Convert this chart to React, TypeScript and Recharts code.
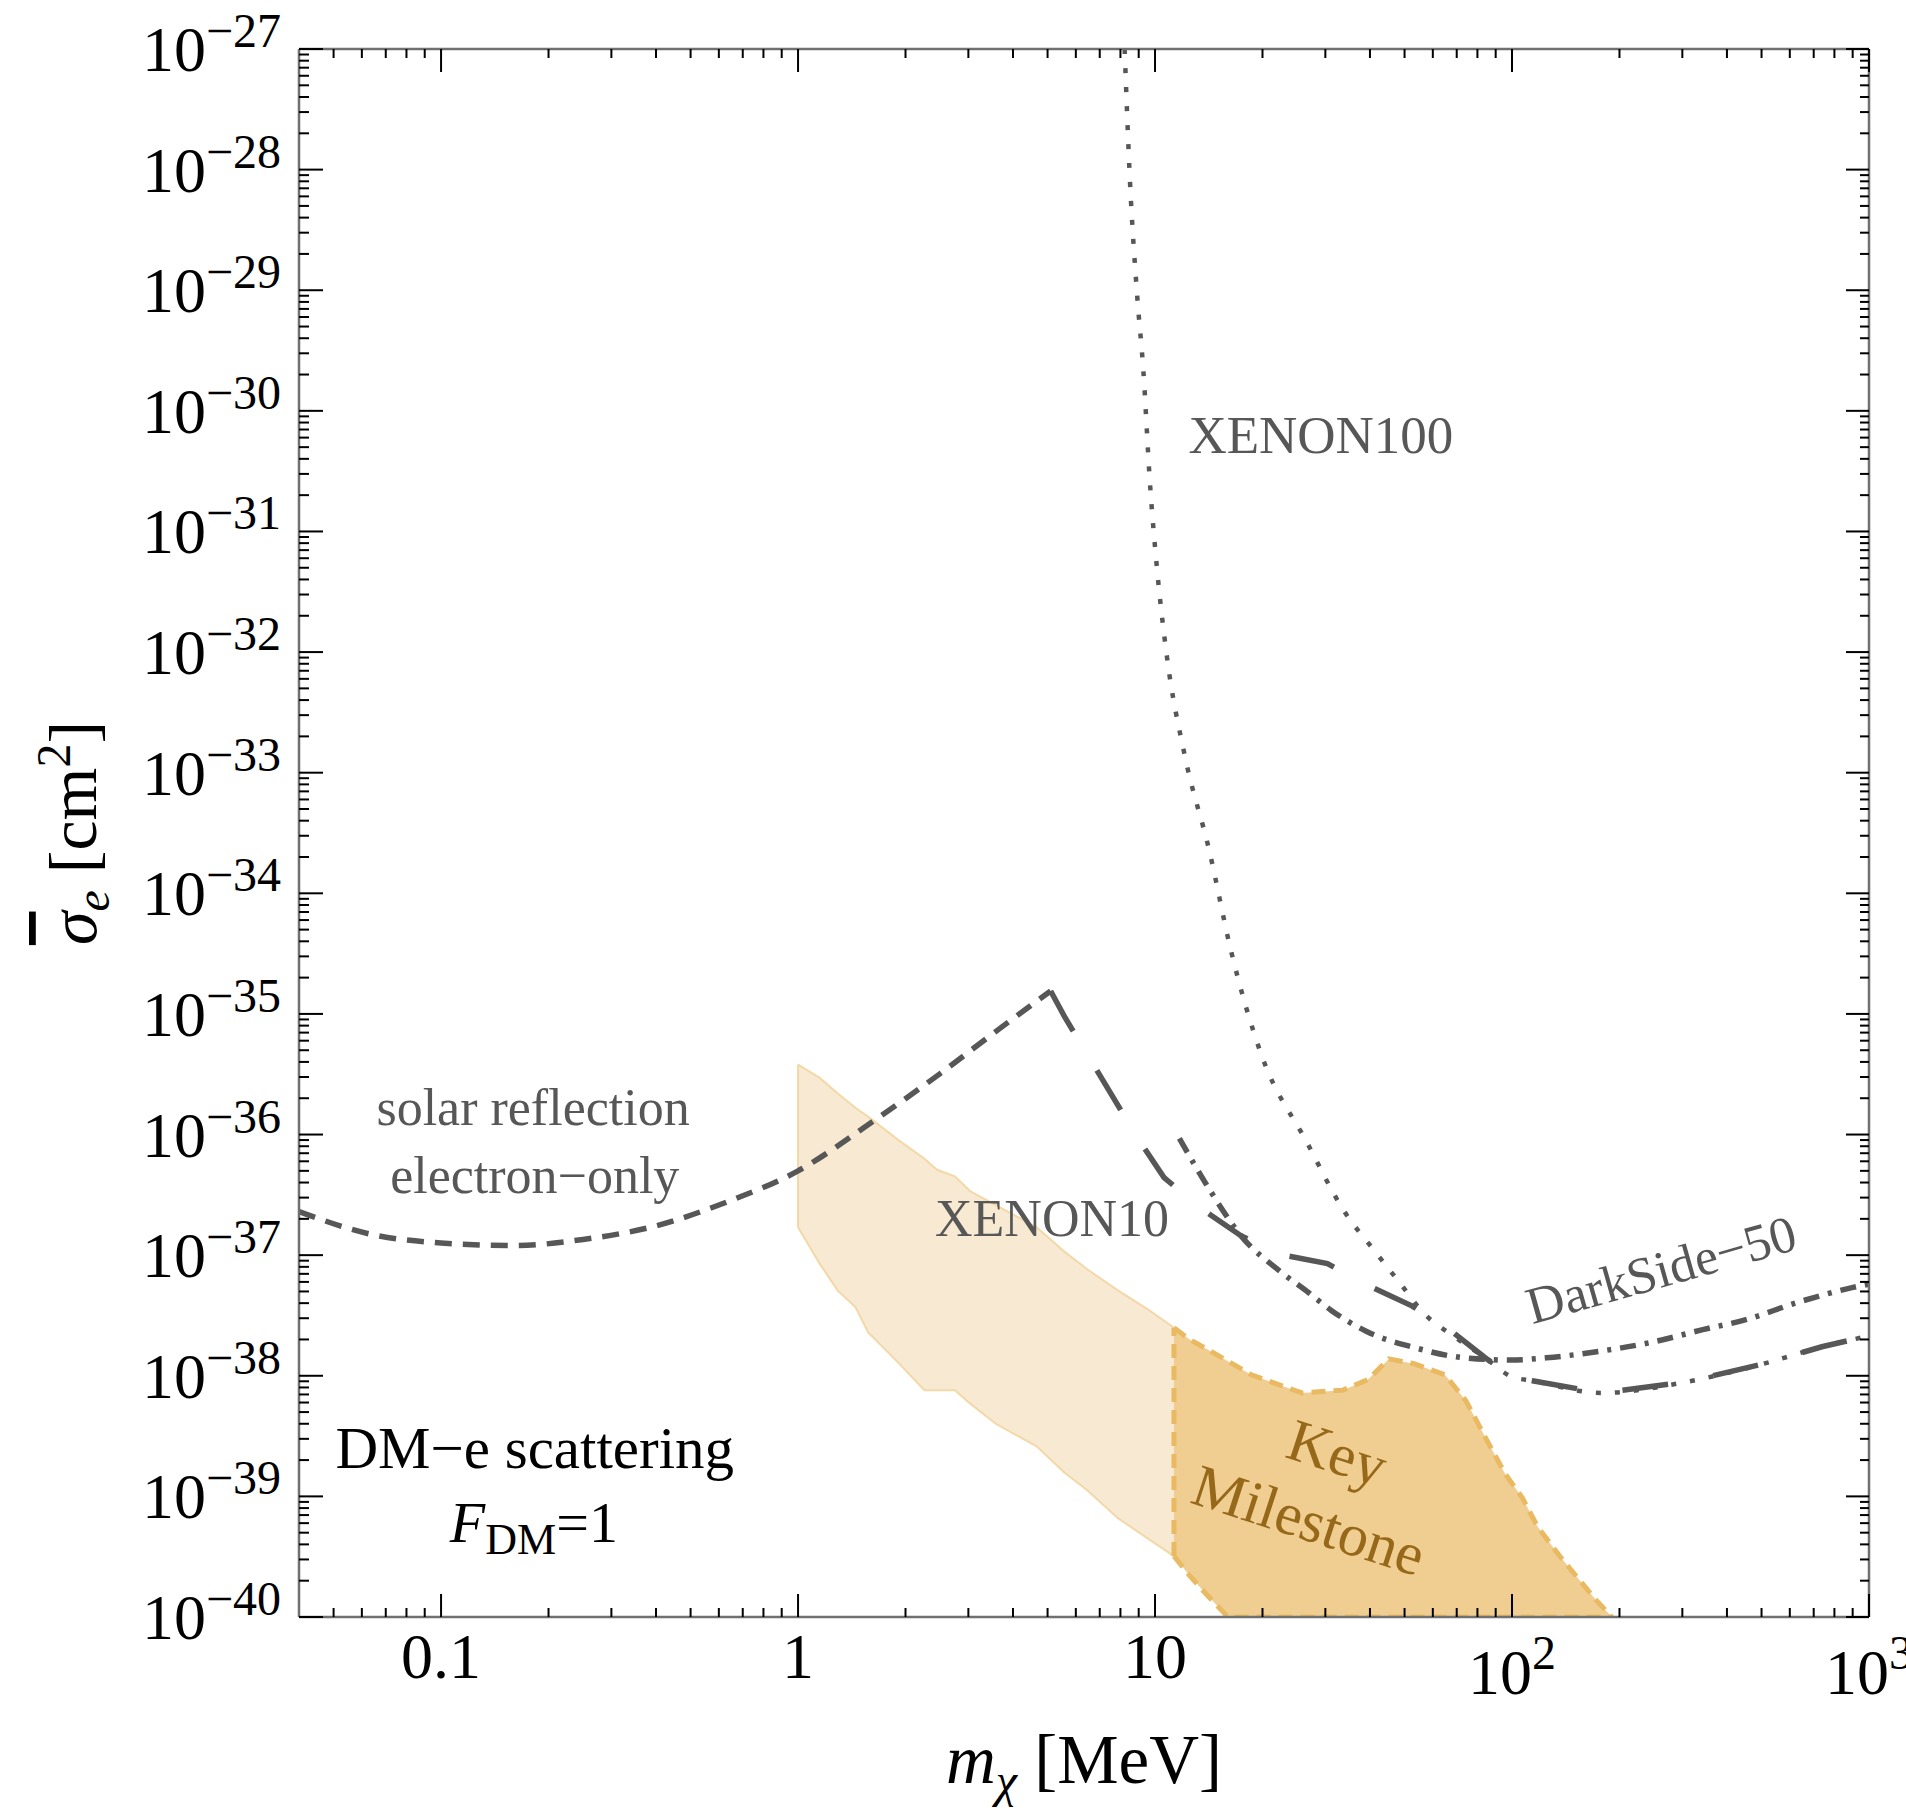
import React from "react";
import { ComposedChart, Line, Area, XAxis, YAxis, ReferenceDot } from "recharts";

const W = 1906;
const H = 1808;
const SERIF = '"Liberation Serif", "Times New Roman", Times, serif';
const INK = "#575757";

// axes: dark matter mass in MeV, cross section in cm^2
const massDomain = [0.04, 1000];
const sigmaDomain = [1e-40, 1e-27];

// solar reflection, electron-only (short dashes)
const solarMass = [0.04, 0.063, 0.1, 0.16, 0.25, 0.4, 0.63, 1, 1.6, 2.5, 3.5, 5.1];
const solarSigma = [2.3e-37, 1.5e-37, 1.26e-37, 1.2e-37, 1.35e-37, 1.75e-37, 2.75e-37, 5e-37, 1.25e-36, 3.2e-36, 6.8e-36, 1.55e-35];

// XENON10 (long dashes)
const xe10Mass = [5.1, 5.6, 8.95, 10.6, 13.3, 17.4, 22.2, 30.4, 39.5, 52.4, 67, 84.1, 100, 114, 178, 308, 508, 738, 1000];
const xe10Sigma = [1.55e-35, 9.3e-36, 9.3e-37, 4.4e-37, 2.5e-37, 1.45e-37, 1.02e-37, 8.5e-38, 5.6e-38, 3.8e-38, 2.4e-38, 1.41e-38, 9.8e-39, 9.1e-39, 7.2e-39, 8.9e-39, 1.26e-38, 1.74e-38, 2.14e-38];

// XENON100 (dotted)
const xe100Mass = [8.22, 8.51, 8.91, 9.27, 9.68, 10.07, 10.8, 12.1, 14.2, 16.3, 19.8, 26.7, 33.6, 41.9, 48.8, 56.6, 69, 84.1, 100, 114, 178, 308, 508, 738, 1000];
const xe100Sigma = [1e-27, 7.9e-29, 9.1e-30, 2.2e-30, 2.5e-31, 5.9e-32, 9.1e-33, 1.41e-33, 2.24e-34, 3.4e-35, 4.7e-36, 8.5e-37, 2.4e-37, 1.02e-37, 5.75e-38, 3.3e-38, 2.1e-38, 1.41e-38, 9.8e-39, 9.1e-39, 7.2e-39, 8.9e-39, 1.26e-38, 1.74e-38, 2.14e-38];

// DarkSide-50 (dash-dot)
const dsMass = [11.7, 14.3, 17.4, 22.6, 26.9, 31.1, 38.9, 53.8, 73.3, 99.1, 125, 182, 247, 340, 458, 621, 902, 1000];
const dsSigma = [9.3e-37, 3.4e-37, 1.45e-37, 7.2e-38, 4.9e-38, 3.5e-38, 2.35e-38, 1.7e-38, 1.41e-38, 1.35e-38, 1.41e-38, 1.62e-38, 1.9e-38, 2.4e-38, 2.95e-38, 4.0e-38, 5.4e-38, 5.75e-38];

// light projection band
const bandMass = [1, 1.15, 1.29, 1.45, 1.57, 1.92, 2.26, 2.45, 2.75, 3.03, 3.58, 4.66, 5.57, 6.47, 7.87, 9.62, 11.3];
const bandHigh = [3.8e-36, 2.95e-36, 2.2e-36, 1.66e-36, 1.41e-36, 8.9e-37, 6.3e-37, 5.1e-37, 4.5e-37, 3.4e-37, 2.6e-37, 1.7e-37, 1.07e-37, 7.6e-38, 5.1e-38, 3.5e-38, 2.5e-38];
const bandLow = [1.7e-37, 8.5e-38, 5.1e-38, 3.7e-38, 2.3e-38, 1.26e-38, 7.6e-39, 7.6e-39, 7.6e-39, 5.9e-39, 4.0e-39, 2.6e-39, 1.58e-39, 1.12e-39, 6.6e-40, 4.4e-40, 3.2e-40];

// key milestone region
const keyMass = [11.3, 12.5, 14.2, 16.0, 18.6, 25.8, 33.6, 39.5, 45.2, 53.1, 64.9, 74.3, 84.1, 95.5, 106.7, 118, 136, 172, 190.5];
const keyHigh = [2.5e-38, 2.0e-38, 1.62e-38, 1.32e-38, 1.02e-38, 7.2e-39, 7.6e-39, 9.3e-39, 1.38e-38, 1.26e-38, 1.02e-38, 6.2e-39, 3.1e-39, 1.55e-39, 9.8e-40, 5.6e-40, 3.2e-40, 1.38e-40, 1e-40];
const keyLow = [3.2e-40, 2.2e-40, 1.45e-40, 1e-40, 1e-40, 1e-40, 1e-40, 1e-40, 1e-40, 1e-40, 1e-40, 1e-40, 1e-40, 1e-40, 1e-40, 1e-40, 1e-40, 1e-40, 1e-40];

const pairs = (ms: number[], ss: number[]) => ms.map((m, i) => ({ m, s: ss[i] }));
const ranges = (ms: number[], lo: number[], hi: number[]) => ms.map((m, i) => ({ m, s: [lo[i], hi[i]] }));

const solar = pairs(solarMass, solarSigma);
const xe10 = pairs(xe10Mass, xe10Sigma);
const xe100 = pairs(xe100Mass, xe100Sigma);
const darkSide = pairs(dsMass, dsSigma);
const band = ranges(bandMass, bandLow, bandHigh);
const keyRegion = ranges(keyMass, keyLow, keyHigh);
const bandEdge = [{ m: bandMass[0], s: bandLow[0] }, { m: bandMass[0], s: bandHigh[0] }];
const keyEdge = [{ m: keyMass[0], s: keyLow[0] }, { m: keyMass[0], s: keyHigh[0] }];

// 1..9 x 10^n between the domain ends
function logTicks(lo: number, hi: number) {
  const out: number[] = [];
  for (let e = Math.floor(Math.log10(lo)); e <= Math.ceil(Math.log10(hi)); e++) {
    for (let k = 1; k <= 9; k++) {
      const v = Number((k * Math.pow(10, e)).toPrecision(6));
      if (v > lo * 1.0001 && v <= hi * 1.0001) out.push(v);
      else if (k === 1 && Math.abs(v - lo) / lo < 1e-4) out.push(v);
    }
  }
  return out;
}
const massTicks = logTicks(massDomain[0], massDomain[1]);
const sigmaTicks = logTicks(sigmaDomain[0], sigmaDomain[1]);

const isMajor = (v: number) => Math.abs(Math.log10(v) - Math.round(Math.log10(v))) < 1e-6;
const expOf = (v: number) => Math.round(Math.log10(v));

function BottomTick({ x, y, payload }: any) {
  const v = payload.value;
  const major = isMajor(v);
  const e = expOf(v);
  return (
    <g>
      <line x1={x} x2={x} y1={y} y2={y - (major ? 23 : 9)} stroke="#000" strokeWidth={2} />
      {major && e < 2 && (
        <text x={x} y={y + 61} textAnchor="middle" fontFamily={SERIF} fontSize={64} fill="#000">
          {e < 0 ? "0.1" : e === 0 ? "1" : "10"}
        </text>
      )}
      {major && e >= 2 && (
        <text x={x} y={y + 77} textAnchor="middle" fontFamily={SERIF} fontSize={64} fill="#000">
          <tspan>10</tspan>
          <tspan fontSize={48} dy={-25}>{e}</tspan>
        </text>
      )}
    </g>
  );
}

function TopTick({ x, y, payload }: any) {
  const major = isMajor(payload.value);
  return <line x1={x} x2={x} y1={y} y2={y + (major ? 23 : 9)} stroke="#000" strokeWidth={2} />;
}

function LeftTick({ x, y, payload }: any) {
  const v = payload.value;
  const major = isMajor(v);
  return (
    <g>
      <line x1={x} x2={x + (major ? 24 : 10)} y1={y} y2={y} stroke="#000" strokeWidth={2} />
      {major && (
        <text x={x - 18} y={y + 22} textAnchor="end" fontFamily={SERIF} fontSize={64} fill="#000">
          <tspan>10</tspan>
          <tspan fontSize={48} dy={-24}>{"\u2212" + Math.abs(expOf(v))}</tspan>
        </text>
      )}
    </g>
  );
}

function RightTick({ x, y, payload }: any) {
  const major = isMajor(payload.value);
  return <line x1={x} x2={x - (major ? 23 : 9)} y1={y} y2={y} stroke="#000" strokeWidth={2} />;
}

function MassTitle(props: any) {
  const vb = props.viewBox || { x: 299, y: 1617, width: 1570, height: 1 };
  const cx = vb.x + vb.width / 2;
  return (
    <text x={cx} y={vb.y + 166} textAnchor="middle" fontFamily={SERIF} fontSize={69} fill="#000">
      <tspan fontStyle="italic">m</tspan>
      <tspan fontStyle="italic" fontSize={48} dy={14}>{"\u03c7"}</tspan>
      <tspan dy={-14}>{"  [MeV]"}</tspan>
    </text>
  );
}

function SigmaTitle(props: any) {
  const vb = props.viewBox || { x: 298, y: 48, width: 1, height: 1569 };
  const cy = vb.y + vb.height / 2;
  const bx = 96;
  return (
    <text x={bx} y={cy} transform={`rotate(-90 ${bx} ${cy})`} textAnchor="middle" fontFamily={SERIF} fontSize={68} fill="#000">
      <tspan fontStyle="italic" style={{ textDecoration: "overline" }}>{"\u03c3"}</tspan>
      <tspan fontStyle="italic" fontSize={48} dy={13}>e</tspan>
      <tspan dy={-13}>{" [cm"}</tspan>
      <tspan fontSize={48} dy={-26}>2</tspan>
      <tspan dy={26}>]</tspan>
    </text>
  );
}

const textAt = (m: number, s: number, draw: (cx: number, cy: number) => React.ReactNode, key: string) => (
  <ReferenceDot key={key} x={m} y={s} r={0} ifOverflow="visible" shape={(p: any) => <g>{draw(p.cx, p.cy)}</g>} />
);

const frame = { stroke: "#707070", strokeWidth: 2.5 };

export default function App() {
  return (
    <div style={{ position: "absolute", left: 0, top: 0, width: W, height: H, background: "#fff" }}>
      <ComposedChart width={W} height={H} margin={{ top: 48, right: 36, bottom: 190, left: 298 }}>
        <XAxis
          type="number" dataKey="m" scale="log" domain={massDomain} allowDataOverflow
          ticks={massTicks} interval={0} height={1} tickSize={0} tickMargin={0}
          axisLine={frame} tickLine={false} tick={<BottomTick />}
          label={<MassTitle />}
        />
        <XAxis
          xAxisId="top" orientation="top" type="number" dataKey="m" scale="log" domain={massDomain} allowDataOverflow
          ticks={massTicks} interval={0} height={1} tickSize={0} tickMargin={0}
          axisLine={frame} tickLine={false} tick={<TopTick />}
        />
        <YAxis
          type="number" scale="log" domain={sigmaDomain} allowDataOverflow
          ticks={sigmaTicks} interval={0} width={1} tickSize={0} tickMargin={0}
          axisLine={frame} tickLine={false} tick={<LeftTick />}
          label={<SigmaTitle />}
        />
        <YAxis
          yAxisId="right" orientation="right" type="number" scale="log" domain={sigmaDomain} allowDataOverflow
          ticks={sigmaTicks} interval={0} width={1} tickSize={0} tickMargin={0}
          axisLine={frame} tickLine={false} tick={<RightTick />}
        />

        <Area data={band} dataKey="s" type="linear" fill="#F7E9D2" fillOpacity={1} stroke="#F3D8A8" strokeWidth={2} isAnimationActive={false} />
        <Line data={bandEdge} dataKey="s" type="linear" stroke="#F3D8A8" strokeWidth={2} dot={false} isAnimationActive={false} />
        <Area data={keyRegion} dataKey="s" type="linear" fill="#F0CE92" fillOpacity={1} stroke="#E9BA62" strokeWidth={5} strokeDasharray="14 8" isAnimationActive={false} />
        <Line data={keyEdge} dataKey="s" type="linear" stroke="#E9BA62" strokeWidth={5} strokeDasharray="14 8" dot={false} isAnimationActive={false} />

        <Line data={solar} dataKey="s" type="monotone" stroke={INK} strokeWidth={5.5} strokeDasharray="17 11" dot={false} isAnimationActive={false} />
        <Line data={xe10} dataKey="s" type="linear" stroke={INK} strokeWidth={5.5} strokeDasharray="46 46" dot={false} isAnimationActive={false} />
        <Line data={xe100} dataKey="s" type="monotone" stroke={INK} strokeWidth={4.5} strokeDasharray="5 14" dot={false} isAnimationActive={false} />
        <Line data={darkSide} dataKey="s" type="monotone" stroke={INK} strokeWidth={5.5} strokeDasharray="16 9 4 9" dot={false} isAnimationActive={false} />

        {textAt(12.4, 4.5e-31, (x, y) => (
          <text x={x} y={y} fontFamily={SERIF} fontSize={53} fill={INK}>XENON100</text>
        ), "xe100")}
        {textAt(2.42, 1.43e-37, (x, y) => (
          <text x={x} y={y} fontFamily={SERIF} fontSize={52} fill={INK}>XENON10</text>
        ), "xe10")}
        {textAt(0.181, 1.21e-36, (x, y) => (
          <text x={x} y={y} textAnchor="middle" fontFamily={SERIF} fontSize={52} fill={INK}>solar reflection</text>
        ), "solar1")}
        {textAt(0.183, 3.3e-37, (x, y) => (
          <text x={x} y={y} textAnchor="middle" fontFamily={SERIF} fontSize={52} fill={INK}>{"electron\u2212only"}</text>
        ), "solar2")}
        {textAt(270, 5.5e-38, (x, y) => (
          <text x={x} y={y} textAnchor="middle" transform={`rotate(-15.8 ${x} ${y})`} fontFamily={SERIF} fontSize={52} fill={INK}>{"DarkSide\u221250"}</text>
        ), "ds")}
        {textAt(31.1, 1.59e-39, (x, y) => (
          <text x={x} y={y} textAnchor="middle" transform={`rotate(18 ${x} ${y})`} fontFamily={SERIF} fontSize={60} fill="#96681A">Key</text>
        ), "key")}
        {textAt(25.9, 4.4e-40, (x, y) => (
          <text x={x} y={y} textAnchor="middle" transform={`rotate(18 ${x} ${y})`} fontFamily={SERIF} fontSize={60} fill="#96681A">Milestone</text>
        ), "milestone")}
        {textAt(0.183, 1.73e-39, (x, y) => (
          <text x={x} y={y} textAnchor="middle" fontFamily={SERIF} fontSize={59} fill="#000">{"DM\u2212e scattering"}</text>
        ), "dme")}
        {textAt(0.182, 4.2e-40, (x, y) => (
          <text x={x} y={y} textAnchor="middle" fontFamily={SERIF} fontSize={58} fill="#000">
            <tspan fontStyle="italic">F</tspan>
            <tspan fontSize={44} dy={12}>DM</tspan>
            <tspan dy={-12}>=1</tspan>
          </text>
        ), "fdm")}
      </ComposedChart>
    </div>
  );
}
